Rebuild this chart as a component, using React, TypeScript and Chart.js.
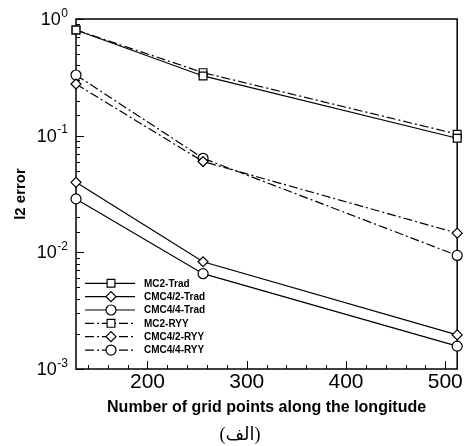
import React, { useEffect, useRef } from 'react';
import { Chart, registerables } from 'chart.js';
import { drawPoint } from 'chart.js/helpers';

Chart.register(...registerables);

// ---- data ----
const gridPoints = [128, 256, 512];
const mc2Trad = [0.805, 0.325, 0.095];
const cmc42Trad = [0.0398, 0.0083, 0.00196];
const cmc44Trad = [0.0287, 0.00656, 0.00157];
const mc2Ryy = [0.805, 0.347, 0.103];
const cmc42Ryy = [0.277, 0.06, 0.0146];
const cmc44Ryy = [0.331, 0.064, 0.0094];

const seriesNames = ['MC2-Trad', 'CMC4/2-Trad', 'CMC4/4-Trad', 'MC2-RYY', 'CMC4/2-RYY', 'CMC4/4-RYY'];
const seriesValues = [mc2Trad, cmc42Trad, cmc44Trad, mc2Ryy, cmc42Ryy, cmc44Ryy];
const xTickValues = [140, 160, 180, 200, 220, 240, 260, 280, 300, 320, 340, 360, 380, 400, 420, 440, 460, 480, 500];
const xLabelValues = [200, 300, 400, 500];
const yLabelExponents = [0, -1, -2, -3];
const xTitle = 'Number of grid points along the longitude';
const yTitle = 'l2 error';
const caption = '(الف)';

const FONT = '"Liberation Sans", Arial, sans-serif';
const DASH = [9, 3, 2, 3];
const markerStyles = ['rect', 'rectRot', 'circle', 'rect', 'rectRot', 'circle'];
const markerRadius: Record<string, number> = { rect: 5.5, rectRot: 5, circle: 5 };

const framePlugin = {
  id: 'frameTicks',
  beforeDatasetsDraw(chart: any) {
    const { ctx, chartArea: a, scales } = chart;
    ctx.save();
    ctx.strokeStyle = '#000';
    ctx.lineWidth = 1.5;
    ctx.strokeRect(a.left, a.top, a.right - a.left, a.bottom - a.top);
    ctx.lineWidth = 1;
    const y = scales.y;
    y.ticks.forEach((t: any) => {
      const l = Math.log10(t.value);
      const major = Math.abs(l - Math.round(l)) < 1e-6;
      const py = Math.round(y.getPixelForValue(t.value)) + 0.5;
      ctx.beginPath();
      ctx.moveTo(a.left, py);
      ctx.lineTo(a.left + (major ? 8 : 4), py);
      ctx.stroke();
    });
    const x = scales.x;
    x.ticks.forEach((t: any) => {
      const major = t.value % 100 === 0;
      const px = Math.round(x.getPixelForValue(t.value)) + 0.5;
      ctx.beginPath();
      ctx.moveTo(px, a.bottom);
      ctx.lineTo(px, a.bottom - (major ? 8 : 4));
      ctx.stroke();
    });
    ctx.restore();
  },
  afterDraw(chart: any) {
    const { ctx, scales } = chart;
    ctx.save();
    // y tick labels with superscript exponents
    const y = scales.y;
    yLabelExponents.forEach((e) => {
      const py = y.getPixelForValue(Math.pow(10, e));
      const expText = String(e);
      ctx.fillStyle = '#000';
      ctx.font = `12px ${FONT}`;
      const ew = ctx.measureText(expText).width;
      const right = 68;
      ctx.textAlign = 'left';
      ctx.textBaseline = 'alphabetic';
      ctx.fillText(expText, right - ew, py - 2.5);
      ctx.font = `18px ${FONT}`;
      ctx.textAlign = 'right';
      ctx.textBaseline = 'middle';
      ctx.fillText('10', right - ew - 0.5, py + 1);
    });
    // legend
    chart.data.datasets.forEach((ds: any, i: number) => {
      const ly = 283.3 + i * 13.35;
      ctx.strokeStyle = '#000';
      ctx.lineWidth = ds.borderWidth;
      ctx.setLineDash(ds.borderDash || []);
      ctx.beginPath();
      ctx.moveTo(85, ly);
      ctx.lineTo(135, ly);
      ctx.stroke();
      ctx.setLineDash([]);
      ctx.fillStyle = '#fff';
      drawPoint(ctx, { pointStyle: ds.pointStyle, radius: ds.pointRadius, borderWidth: ds.pointBorderWidth, rotation: 0 } as any, 111, ly);
      ctx.fillStyle = '#000';
      ctx.font = `bold 10px ${FONT}`;
      ctx.textAlign = 'left';
      ctx.textBaseline = 'middle';
      ctx.fillText(ds.label, 144, ly + 0.5);
    });
    // caption
    ctx.font = '18px "Liberation Serif", "DejaVu Sans", serif';
    ctx.textAlign = 'center';
    ctx.textBaseline = 'middle';
    ctx.fillText(caption, 240, 435);
    ctx.restore();
  },
};

export default function App() {
  const ref = useRef<HTMLCanvasElement>(null);
  useEffect(() => {
    if (!ref.current) return;
    Chart.defaults.font.family = FONT;
    Chart.defaults.color = '#000';
    const datasets = seriesValues.map((vals, i) => ({
      label: seriesNames[i],
      data: gridPoints.map((g, j) => ({ x: g, y: vals[j] })),
      borderColor: '#000',
      borderWidth: 1.2,
      borderDash: i >= 3 ? DASH : [],
      pointStyle: markerStyles[i],
      pointRadius: markerRadius[markerStyles[i]],
      pointBorderWidth: 1.2,
      pointBackgroundColor: '#fff',
      pointBorderColor: '#000',
      fill: false,
      tension: 0,
      clip: false as any,
    }));
    const chart = new Chart(ref.current, {
      type: 'line',
      data: { datasets },
      plugins: [framePlugin],
      options: {
        animation: false,
        responsive: false,
        devicePixelRatio: 1,
        layout: { padding: { left: 0, right: 5, top: 19, bottom: 0 } },
        plugins: { legend: { display: false }, tooltip: { enabled: false } },
        scales: {
          x: {
            type: 'linear',
            min: 128,
            max: 512,
            grid: { display: false, drawTicks: false },
            border: { display: false },
            afterBuildTicks: (s: any) => { s.ticks = xTickValues.map((v) => ({ value: v })); },
            ticks: {
              autoSkip: false,
              maxRotation: 0,
              padding: 1,
              font: { size: 21 },
              callback: (v: any) => (xLabelValues.includes(Number(v)) ? String(v) : ''),
            },
            title: { display: true, text: xTitle, font: { size: 16, weight: 'bold' }, padding: { top: 0, bottom: 29 } },
            afterFit: (s: any) => { s.height = 77; },
          },
          y: {
            type: 'logarithmic',
            min: 0.001,
            max: 1,
            grid: { display: false, drawTicks: false },
            border: { display: false },
            ticks: { display: false, autoSkip: false },
            title: { display: true, text: yTitle, font: { size: 15, weight: 'bold' }, padding: { top: 12, bottom: 0 } },
            afterFit: (s: any) => { s.width = 76; },
          },
        },
      } as any,
    });
    return () => chart.destroy();
  }, []);
  return (
    <div style={{ position: 'absolute', left: 0, top: 0, width: 464, height: 446 }}>
      <canvas ref={ref} width={464} height={446} style={{ display: 'block' }} />
    </div>
  );
}
